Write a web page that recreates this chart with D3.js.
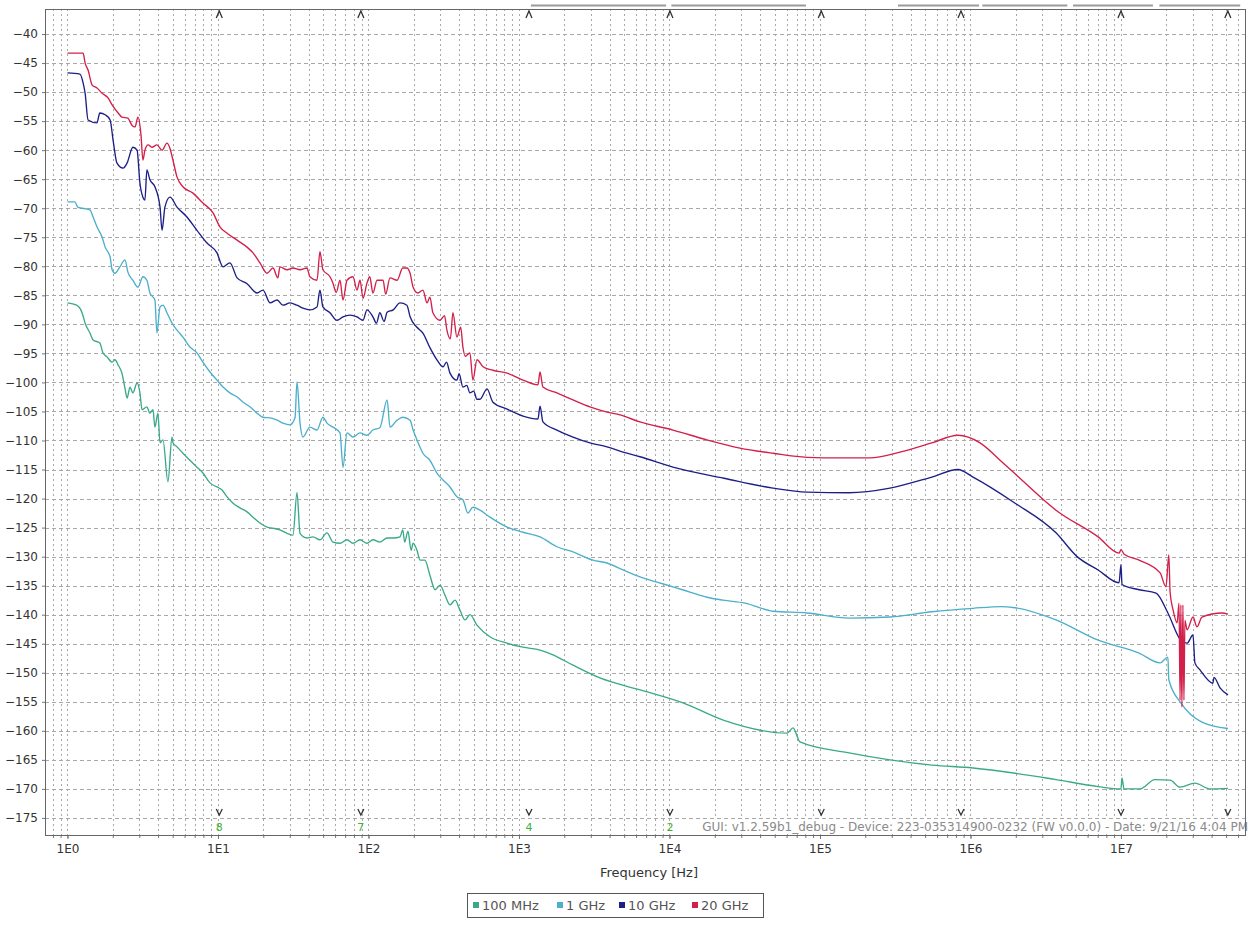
<!DOCTYPE html>
<html>
<head>
<meta charset="utf-8">
<script src="https://cdn.jsdelivr.net/npm/d3@7"></script>
<style>
  body { margin: 0; background: #fff; }
  svg { display: block; font-family: "DejaVu Sans", sans-serif; }
</style>
</head>
<body>
<svg id="chart" width="1258" height="925"></svg>
<script>
// series: [frequency Hz, level dBc/Hz]
const s100MHz = [[1, -86.3], [1.15, -86.7], [1.25, -88.0], [1.31, -89.8], [1.41, -91.5], [1.48, -92.7], [1.64, -93.2],
  [1.72, -94.9], [1.83, -95.6], [1.98, -96.5], [2.07, -96.1], [2.17, -97.0], [2.30, -98.4], [2.41, -101.0], [2.49, -102.7],
  [2.60, -100.8], [2.72, -101.8], [2.90, -100.1], [3.03, -101.8], [3.13, -104.7], [3.37, -104.2], [3.53, -105.3],
  [3.70, -104.7], [3.81, -107.7], [3.99, -105.3], [4.12, -110.4], [4.31, -109.9], [4.65, -117.1], [4.95, -109.4],
  [5.02, -110.4], [5.34, -111.1], [5.85, -112.2], [6.51, -113.4], [7.25, -114.6], [7.94, -115.6], [8.85, -117.3],
  [9.85, -118.0], [10.6, -118.5], [11.5, -119.7], [12.6, -120.8], [14.0, -121.6], [15.6, -122.3], [17.1, -123.2],
  [19.0, -124.2], [21.2, -124.9], [23.2, -125.1], [25.8, -125.4], [28.8, -126.0], [31.5, -126.3], [33.5, -119.0],
  [35.1, -126.0], [39.0, -126.8], [42.8, -126.6], [47.6, -127.1], [53.0, -125.9], [58.1, -127.5], [64.7, -127.7],
  [72.0, -127.1], [78.9, -127.7], [87.9, -127.1], [97.7, -127.7], [107, -127.1], [119, -127.5], [133, -126.8],
  [146, -126.8], [162, -126.6], [169, -125.4], [174, -127.5], [183, -125.6], [192, -128.9], [198, -127.7],
  [210, -128.9], [220, -130.6], [237, -130.6], [256, -133.2], [277, -135.7], [299, -134.9], [322, -136.6],
  [348, -138.3], [376, -137.5], [405, -139.2], [438, -140.9], [472, -140.0], [526, -141.8], [641, -143.8],
  [834, -144.9], [1064, -145.6], [1380, -146.1], [1683, -146.9], [2285, -148.7], [3452, -150.9], [6471, -153.0],
  [12300, -155.2], [23010, -158.2], [60400, -160.4], [66220, -159.5], [73650, -161.9], [156000, -163.8],
  [291700, -165.0], [554400, -165.9], [1.04e6, -166.4], [1.98e6, -167.3], [3.70e6, -168.4], [7.05e6, -169.6],
  [1.0e7, -170.0], [1.016e7, -168.1], [1.047e7, -170.0], [1.34e7, -170.0], [1.68e7, -168.4], [2.12e7, -168.5],
  [2.47e7, -169.7], [3.10e7, -169.0], [3.90e7, -170.0], [5.14e7, -169.9]];

const s1GHz = [[1, -68.9], [1.12, -68.9], [1.17, -69.8], [1.41, -70.3], [1.48, -71.5], [1.57, -73.2], [1.70, -75.0],
  [1.78, -76.7], [1.92, -78.4], [1.98, -80.6], [2.07, -81.2], [2.23, -80.1], [2.41, -78.9], [2.52, -81.0],
  [2.72, -82.4], [2.94, -83.6], [3.17, -81.8], [3.37, -82.4], [3.53, -84.6], [3.81, -85.8], [3.93, -91.5],
  [4.12, -87.0], [4.31, -86.7], [4.58, -88.0], [4.95, -89.8], [5.34, -91.0], [5.85, -92.2], [6.51, -93.9],
  [7.25, -94.9], [7.94, -96.5], [8.85, -98.2], [9.85, -99.6], [10.8, -100.8], [12.0, -101.8], [13.4, -102.5],
  [14.7, -103.4], [16.3, -104.2], [18.2, -105.3], [19.9, -106.0], [22.2, -106.1], [24.7, -106.5], [27.0, -107.0],
  [30.1, -107.3], [32.5, -106.1], [33.5, -99.9], [35.1, -107.0], [36.7, -109.4], [40.8, -107.7], [45.5, -108.2],
  [49.8, -106.0], [53.0, -107.0], [58.1, -107.7], [64.7, -108.7], [67.7, -114.6], [72.0, -108.7], [78.9, -109.4],
  [87.9, -108.7], [97.7, -109.1], [107, -108.2], [119, -107.8], [133, -103.0], [139, -107.7], [155, -106.5],
  [169, -106.0], [189, -106.5], [198, -108.2], [210, -109.9], [230, -112.2], [256, -113.4], [285, -115.6],
  [313, -116.8], [348, -118.0], [387, -119.7], [424, -120.2], [458, -122.5], [494, -121.5], [551, -122.0],
  [641, -123.2], [834, -124.9], [1064, -125.8], [1380, -126.6], [1787, -128.3], [2285, -129.2], [3102, -130.6],
  [3844, -131.1], [4913, -132.3], [6366, -133.5], [8258, -134.4], [10550, -135.2], [13690, -136.1],
  [17750, -137.0], [22660, -137.5], [31750, -138.0], [48740, -139.4], [82000, -139.7], [156000, -140.6],
  [291700, -140.4], [554400, -139.5], [1.04e6, -138.9], [1.6e6, -138.6], [1.98e6, -138.8], [3.70e6, -140.9],
  [7.05e6, -144.4], [1.32e7, -146.6], [1.82e7, -148.3], [2.05e7, -147.3], [2.08e7, -151.2], [2.50e7, -155.2],
  [3.45e7, -158.5], [5.14e7, -159.6]];

const s10GHz = [[1, -46.7], [1.21, -46.9], [1.27, -48.4], [1.31, -50.2], [1.37, -54.8], [1.57, -55.3], [1.64, -53.6],
  [1.78, -53.9], [1.92, -54.8], [2.01, -58.3], [2.13, -62.2], [2.34, -63.1], [2.49, -62.2], [2.72, -59.5],
  [2.90, -60.0], [3.03, -65.7], [3.17, -68.1], [3.27, -68.6], [3.37, -63.4], [3.53, -65.1], [3.81, -66.3],
  [4.12, -69.8], [4.25, -73.8], [4.44, -69.8], [4.80, -68.1], [5.34, -69.8], [6.22, -71.5], [7.25, -73.8],
  [8.45, -76.0], [9.85, -77.7], [10.8, -80.1], [12.0, -79.4], [13.4, -82.0], [15.6, -83.0], [18.2, -84.6],
  [19.9, -84.1], [22.2, -86.3], [24.7, -85.8], [27.0, -86.7], [30.1, -86.3], [33.5, -86.7], [36.7, -87.2],
  [40.8, -87.5], [45.5, -87.0], [47.6, -84.1], [49.8, -87.0], [55.5, -88.0], [61.8, -89.3], [67.7, -88.7],
  [75.4, -88.4], [83.9, -88.7], [91.9, -89.3], [97.7, -87.5], [107, -88.7], [113, -89.8], [119, -88.0],
  [127, -89.5], [133, -87.9], [146, -87.5], [162, -86.3], [180, -86.7], [189, -88.7], [210, -90.5], [230, -91.5],
  [256, -94.0], [285, -96.1], [313, -97.3], [330, -96.5], [348, -98.4], [387, -99.6], [400, -98.5], [424, -100.8],
  [450, -100.5], [472, -101.8], [500, -101.5], [526, -102.9], [551, -102.9], [613, -101.1], [671, -103.4],
  [834, -104.6], [1064, -105.8], [1337, -106.3], [1380, -104.1], [1443, -106.8], [1787, -108.2], [2285, -109.4],
  [2963, -110.4], [3844, -111.1], [4913, -112.0], [6366, -112.8], [10550, -114.6], [23010, -116.5],
  [48740, -118.2], [82000, -118.9], [156000, -119.0], [291700, -118.2], [554400, -116.3], [826200, -115.0],
  [1.04e6, -116.3], [1.98e6, -120.8], [3.70e6, -125.9], [5.11e6, -130.0], [7.05e6, -132.3], [9.71e6, -134.5],
  [1.0e7, -131.4], [1.016e7, -134.8], [1.32e7, -135.7], [1.71e7, -136.3], [2.05e7, -139.7], [2.50e7, -144.4],
  [2.75e7, -144.9], [3.01e7, -143.5], [3.10e7, -148.3], [3.35e7, -149.5], [4.08e7, -151.8], [4.15e7, -150.8],
  [4.55e7, -152.6], [5.14e7, -153.8]];

const s20GHz = [[1, -43.3], [1.27, -43.3], [1.31, -45.0], [1.37, -46.2], [1.46, -48.8], [1.57, -49.3], [1.70, -50.2],
  [1.86, -51.0], [1.98, -52.2], [2.17, -53.6], [2.30, -54.3], [2.52, -54.5], [2.68, -55.7], [2.81, -56.0],
  [2.94, -54.3], [3.08, -57.4], [3.17, -61.7], [3.27, -60.0], [3.43, -59.1], [3.64, -59.5], [3.93, -59.1],
  [4.25, -60.0], [4.58, -58.8], [4.80, -59.7], [5.02, -61.7], [5.34, -64.6], [5.85, -66.3], [6.82, -67.4],
  [7.94, -69.1], [9.27, -70.8], [10.3, -73.2], [11.5, -74.3], [13.4, -75.5], [15.6, -76.7], [17.1, -77.7],
  [19.0, -79.4], [21.2, -81.2], [23.2, -80.3], [25.0, -82.0], [25.8, -80.1], [28.8, -80.6], [31.5, -80.3],
  [35.1, -80.6], [39.0, -80.3], [40.8, -81.8], [45.5, -82.4], [47.6, -77.5], [49.8, -80.6], [55.5, -81.8],
  [58.1, -82.9], [61.0, -84.5], [64.7, -82.4], [67.7, -85.8], [72.0, -82.4], [78.9, -81.8], [83.9, -84.1],
  [87.9, -82.4], [92.0, -85.5], [97.7, -82.9], [102, -81.8], [107, -84.6], [114, -82.4], [125, -82.4],
  [130, -84.8], [139, -82.0], [155, -82.4], [169, -80.3], [180, -80.3], [189, -81.2], [198, -83.6], [213, -84.6],
  [230, -84.1], [245, -86.3], [256, -85.3], [268, -88.0], [299, -89.3], [320, -88.5], [332, -91.0], [350, -92.5],
  [364, -88.0], [387, -92.2], [410, -90.5], [424, -93.9], [440, -95.5], [472, -94.9], [494, -99.6], [526, -96.1],
  [577, -97.3], [671, -97.9], [834, -98.4], [1064, -99.6], [1337, -100.4], [1380, -98.2], [1443, -100.8],
  [1787, -101.8], [2285, -103.0], [2963, -104.2], [3844, -105.1], [4691, -105.6], [6366, -106.8],
  [10550, -108.2], [17750, -109.9], [29390, -111.3], [48740, -112.2], [82000, -112.9], [135900, -113.0],
  [214900, -113.0], [340100, -112.0], [554400, -110.4], [826200, -109.1], [1.157e6, -110.4], [1.62e6, -113.7],
  [2.13e6, -116.5], [3.70e6, -122.0], [7.05e6, -126.6], [9.71e6, -129.4], [1.0e7, -128.8], [1.05e7, -129.6],
  [1.32e7, -130.6], [1.82e7, -132.8], [1.99e7, -135.2], [2.08e7, -129.7], [2.12e7, -136.1], [2.22e7, -139.2],
  [2.36e7, -141.4], [2.43e7, -138.0], [2.47e7, -154.7], [2.50e7, -138.3], [2.54e7, -155.9], [2.58e7, -138.3],
  [2.62e7, -154.7], [2.66e7, -141.0], [2.75e7, -142.6], [3.01e7, -140.4], [3.20e7, -142.1], [3.45e7, -140.4],
  [4.69e7, -139.7], [5.14e7, -139.9]];

const seriesNames = ["100 MHz", "1 GHz", "10 GHz", "20 GHz"];
const seriesData = [s100MHz, s1GHz, s10GHz, s20GHz];
const seriesColors = ["#3aa98a", "#4cb0ca", "#1c1f86", "#d2204a"];

const yTicks = d3.range(-175, -39, 5);
const xDecades = [1e0, 1e1, 1e2, 1e3, 1e4, 1e5, 1e6, 1e7];
const xTickLabels = ["1E0", "1E1", "1E2", "1E3", "1E4", "1E5", "1E6", "1E7"];

const markerFreqs = [10.2, 89, 1165, 10070, 1.02e5, 8.65e5, 1.0e7, 5.13e7];
const markerLabels = ["8", "7", "4", "2", "", "", "", ""];
const topBars = [[1200, 9500], [1.03e4, 8.07e4], [3.3e5, 1.14e6], [1.2e6, 4.4e6], [4.8e6, 1.63e7], [1.8e7, 6.2e7]];

const footerText = "GUI: v1.2.59b1_debug - Device: 223-035314900-0232 (FW v0.0.0) - Date: 9/21/16 4:04 PM";

const svg = d3.select("#chart");
const plotLeft = 45, plotRight = 1245, plotTop = 9, plotBottom = 835;

const x = d3.scaleLog().domain([0.709, 6.67e7]).range([plotLeft, plotRight]);
const y = d3.scaleLinear().domain([-177.94, -35.69]).range([plotBottom, plotTop]);

// all log grid positions (1..9 per decade) inside the domain
const gridFreqs = [];
for (let n = -1; n <= 7; n++) {
  for (let k = 1; k <= 9; k++) {
    const f = k * Math.pow(10, n);
    if (f >= x.domain()[0] && f <= x.domain()[1]) gridFreqs.push(f);
  }
}

svg.append("defs").append("clipPath").attr("id", "plotclip")
  .append("rect")
  .attr("x", plotLeft).attr("y", plotTop)
  .attr("width", plotRight - plotLeft).attr("height", plotBottom - plotTop);

// grid
const grid = svg.append("g").attr("class", "grid");
grid.selectAll("line.v").data(gridFreqs).join("line")
  .attr("class", "v")
  .attr("x1", d => Math.round(x(d)) + 0.5).attr("x2", d => Math.round(x(d)) + 0.5)
  .attr("y1", plotTop).attr("y2", plotBottom)
  .attr("stroke", "#a8a8a8").attr("stroke-width", 1)
  .attr("stroke-dasharray", "2,3");
grid.selectAll("line.h").data(yTicks).join("line")
  .attr("class", "h")
  .attr("x1", plotLeft).attr("x2", plotRight)
  .attr("y1", d => Math.round(y(d)) + 0.5).attr("y2", d => Math.round(y(d)) + 0.5)
  .attr("stroke", "#a8a8a8").attr("stroke-width", 1)
  .attr("stroke-dasharray", "4,3");

// axes
const yAxis = svg.append("g")
  .attr("transform", `translate(${plotLeft},0)`)
  .call(d3.axisLeft(y).tickValues(yTicks).tickSize(3).tickPadding(4));
yAxis.select(".domain").remove();
yAxis.selectAll("text").attr("font-size", 12).attr("fill", "#333").attr("font-family", "DejaVu Sans");
yAxis.selectAll("line").attr("stroke", "#777");

const xMinor = svg.append("g")
  .attr("transform", `translate(0,${plotBottom})`)
  .call(d3.axisBottom(x).tickValues(gridFreqs).tickSize(3).tickFormat(""));
xMinor.select(".domain").remove();
xMinor.selectAll("line").attr("stroke", "#777");

const xAxis = svg.append("g")
  .attr("transform", `translate(0,${plotBottom})`)
  .call(d3.axisBottom(x).tickValues(xDecades).tickSize(4).tickPadding(5)
    .tickFormat((d, i) => xTickLabels[i]));
xAxis.select(".domain").remove();
xAxis.selectAll("text").attr("font-size", 12).attr("fill", "#333").attr("font-family", "DejaVu Sans");
xAxis.selectAll("line").attr("stroke", "#777");

svg.append("text")
  .attr("x", (plotLeft + plotRight) / 2 + 4)
  .attr("y", 877)
  .attr("text-anchor", "middle")
  .attr("font-size", 13)
  .attr("fill", "#333")
  .text("Frequency [Hz]");

// top bars above the plot
svg.append("g").selectAll("line").data(topBars).join("line")
  .attr("x1", d => x(d[0])).attr("x2", d => x(d[1]))
  .attr("y1", 5.5).attr("y2", 5.5)
  .attr("stroke", "#9a9a9a").attr("stroke-width", 2);

// traces
const line = d3.line()
  .x(d => x(d[0]))
  .y(d => y(d[1]))
  .curve(d3.curveMonotoneX);

svg.append("g").attr("clip-path", "url(#plotclip)")
  .selectAll("path").data(seriesData).join("path")
  .attr("d", line)
  .attr("fill", "none")
  .attr("stroke", (d, i) => seriesColors[i])
  .attr("stroke-width", 1.35)
  .attr("stroke-linejoin", "round");

// footer box
svg.append("rect")
  .attr("x", 701).attr("y", 819)
  .attr("width", plotRight - 701 - 1).attr("height", plotBottom - 819 - 1)
  .attr("fill", "#fff");
svg.append("text")
  .attr("x", 1248).attr("y", 831)
  .attr("text-anchor", "end")
  .attr("font-size", 12)
  .attr("fill", "#8a8a8a")
  .text(footerText);

// markers
const markers = svg.append("g");
markers.selectAll("path.up").data(markerFreqs).join("path")
  .attr("class", "up")
  .attr("transform", d => `translate(${x(d)},14)`)
  .attr("d", "M-3,4L0,-3L3,4")
  .attr("fill", "none").attr("stroke", "#333").attr("stroke-width", 1.3);
markers.selectAll("path.down").data(markerFreqs).join("path")
  .attr("class", "down")
  .attr("transform", d => `translate(${x(d)},812)`)
  .attr("d", "M-3,-3L0,3L3,-3")
  .attr("fill", "none").attr("stroke", "#333").attr("stroke-width", 1.3);
markers.selectAll("text").data(markerFreqs).join("text")
  .attr("x", d => x(d))
  .attr("y", 831)
  .attr("text-anchor", "middle")
  .attr("font-size", 11)
  .attr("fill", "#3bb03b")
  .text((d, i) => markerLabels[i]);

// plot border
svg.append("rect")
  .attr("x", plotLeft + 0.5).attr("y", plotTop + 0.5)
  .attr("width", plotRight - plotLeft).attr("height", plotBottom - plotTop)
  .attr("fill", "none").attr("stroke", "#666").attr("stroke-width", 1);

// legend
const legendX = [473, 557, 619, 692];
const legend = svg.append("g");
legend.append("rect")
  .attr("x", 467.5).attr("y", 893.5)
  .attr("width", 296).attr("height", 24)
  .attr("fill", "#fff").attr("stroke", "#555");
const items = legend.selectAll("g").data(seriesNames).join("g")
  .attr("transform", (d, i) => `translate(${legendX[i]},905)`);
items.append("rect")
  .attr("x", 0).attr("y", -3).attr("width", 6).attr("height", 6)
  .attr("fill", (d, i) => seriesColors[i]);
items.append("text")
  .attr("x", 9).attr("y", 5)
  .attr("font-size", 13)
  .attr("fill", "#555")
  .text(d => d);
</script>
</body>
</html>
